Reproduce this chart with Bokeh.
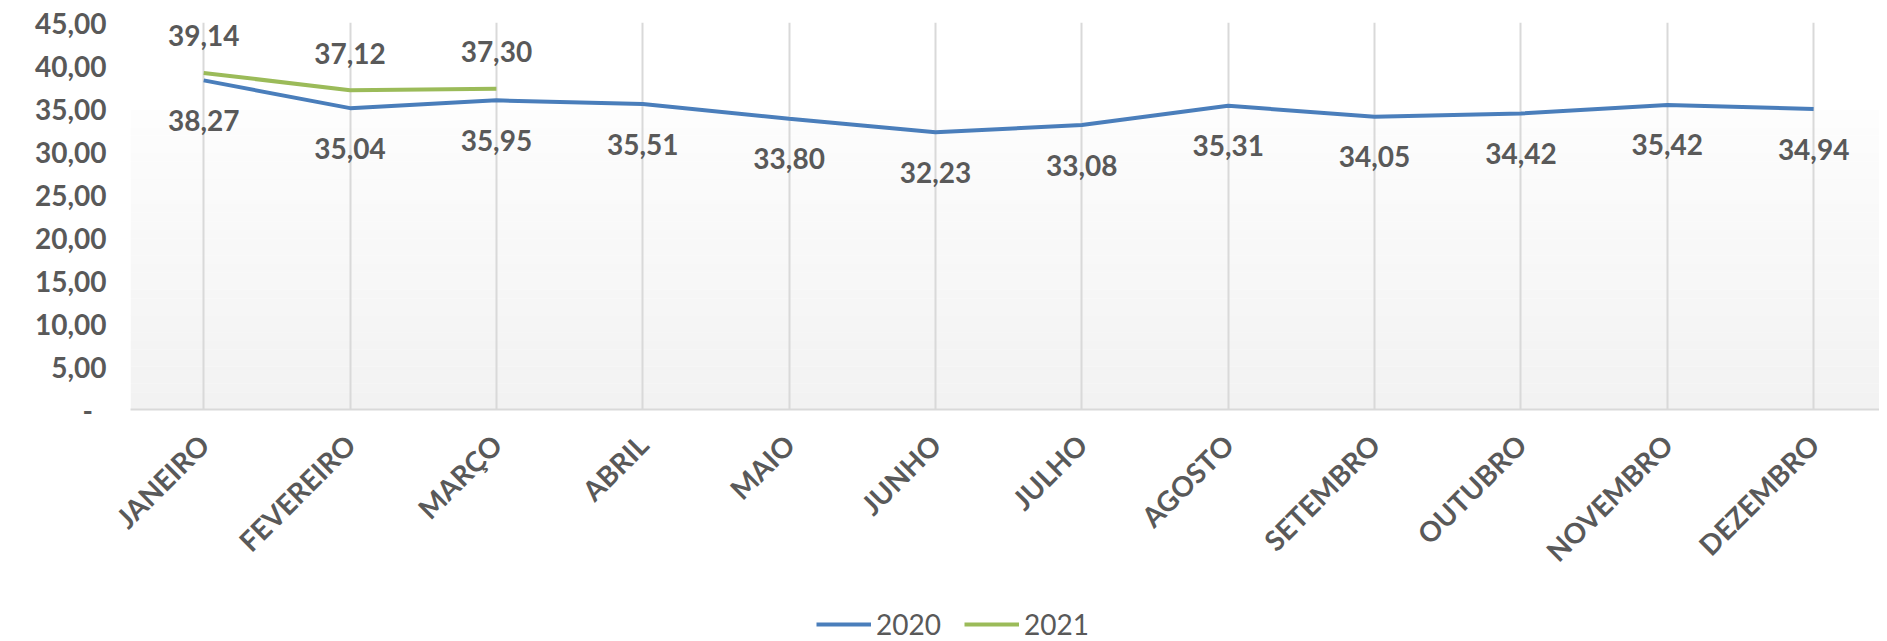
from bokeh.plotting import figure
from bokeh.layouts import column
from bokeh.models import (ColumnDataSource, Range1d, FixedTicker, CustomJSTickFormatter,
                          Legend, LegendItem, BoxAnnotation, LabelSet)
from bokeh.core.properties import value
from bokeh.embed import file_html
from bokeh.resources import INLINE
import math

months = ["JANEIRO", "FEVEREIRO", "MARÇO", "ABRIL", "MAIO", "JUNHO", "JULHO",
          "AGOSTO", "SETEMBRO", "OUTUBRO", "NOVEMBRO", "DEZEMBRO"]
values_2020 = [38.27, 35.04, 35.95, 35.51, 33.80, 32.23, 33.08, 35.31, 34.05, 34.42, 35.42, 34.94]
values_2021 = [39.14, 37.12, 37.30]
series_names = ["2020", "2021"]
y_ticks = [0, 5, 10, 15, 20, 25, 30, 35, 40, 45]

FONT = "Lato"
GRAY = "#595959"
BLUE = "#4a7ebb"
GREEN = "#9bbb59"
W = 1879

def fmt(v):
    return f"{v:.2f}".replace(".", ",")

x20 = list(range(len(values_2020)))
x21 = list(range(len(values_2021)))
src20 = ColumnDataSource(dict(x=x20, y=values_2020, lab=[fmt(v) for v in values_2020]))
src21 = ColumnDataSource(dict(x=x21, y=values_2021, lab=[fmt(v) for v in values_2021]))

p = figure(width=W, height=598, output_backend="svg", toolbar_location=None,
           x_range=Range1d(-0.5, len(months) - 0.55), y_range=Range1d(0, 45),
           min_border_left=130, min_border_right=0, min_border_top=22, min_border_bottom=189)
p.outline_line_color = None
p.background_fill_color = "white"
p.border_fill_color = "white"

# plot-area gradient (decoration)
n_bands = 35
top_val = 34.8
for i in range(n_bands):
    b = top_val * i / n_bands
    t = top_val * (i + 1) / n_bands + 0.02
    frac = i / (n_bands - 1)
    c = int(round(242 + (253 - 242) * frac))
    p.add_layout(BoxAnnotation(bottom=b, top=t, fill_color=f"#{c:02x}{c:02x}{c:02x}",
                               fill_alpha=1, line_color=None, level="image"))

# axes
p.xaxis.ticker = FixedTicker(ticks=x20)
p.xaxis.major_label_overrides = {i: m for i, m in enumerate(months)}
p.xaxis.major_label_orientation = math.pi / 4
p.xaxis.major_label_text_font = FONT
p.xaxis.major_label_text_font_style = "bold"
p.xaxis.major_label_text_font_size = "28px"
p.xaxis.major_label_text_color = GRAY
p.xaxis.major_tick_line_color = None
p.xaxis.minor_tick_line_color = None
p.xaxis.axis_line_color = "#d9d9d9"
p.xaxis.axis_line_width = 2
p.xaxis.major_label_standoff = 24

p.yaxis.ticker = FixedTicker(ticks=y_ticks)
p.yaxis.formatter = CustomJSTickFormatter(code="""
if (tick == 0) { return "-\u00a0\u00a0"; }
return tick.toFixed(2).replace('.', ',');
""")
p.yaxis.major_label_text_font = FONT
p.yaxis.major_label_text_font_style = "bold"
p.yaxis.major_label_text_font_size = "28px"
p.yaxis.major_label_text_color = GRAY
p.yaxis.major_tick_line_color = None
p.yaxis.minor_tick_line_color = None
p.yaxis.axis_line_color = None
p.yaxis.major_label_standoff = 18

p.xgrid.ticker = FixedTicker(ticks=x20)
p.xgrid.grid_line_color = "#d9d9d9"
p.xgrid.grid_line_width = 2
p.ygrid.grid_line_color = None

p.line("x", "y", source=src20, line_color=BLUE, line_width=4)
p.line("x", "y", source=src21, line_color=GREEN, line_width=4)

lab20 = LabelSet(x="x", y="y", text="lab", source=src20, text_align="center",
                 text_baseline="middle", y_offset=-40, text_font=value(FONT),
                 text_font_style="bold", text_font_size="28px", text_color=GRAY)
lab21 = LabelSet(x="x", y="y", text="lab", source=src21, text_align="center",
                 text_baseline="middle", y_offset=37, text_font=value(FONT),
                 text_font_style="bold", text_font_size="28px", text_color=GRAY)
p.add_layout(lab20)
p.add_layout(lab21)

# legend strip below the chart (its series lines sit outside its visible range)
pl = figure(width=W, height=43, output_backend="svg", toolbar_location=None,
            x_axis_type=None, y_axis_type=None, min_border=0,
            x_range=Range1d(0, 1), y_range=Range1d(1000, 1001))
pl.outline_line_color = None
pl.grid.grid_line_color = None
pl.background_fill_color = "white"
pl.border_fill_color = "white"
lr20 = pl.line("x", "y", source=src20, line_color=BLUE, line_width=4)
lr21 = pl.line("x", "y", source=src21, line_color=GREEN, line_width=4)
legend = Legend(items=[LegendItem(label=series_names[0], renderers=[lr20]),
                       LegendItem(label=series_names[1], renderers=[lr21])],
                orientation="horizontal", location=(686, 0),
                label_text_font=FONT, label_text_font_size="28px", label_text_color=GRAY,
                glyph_width=55, glyph_height=30, label_standoff=5, spacing=23,
                padding=0, margin=0, border_line_color=None, background_fill_alpha=0)
pl.add_layout(legend, "center")

layout = column(p, pl, spacing=0)
open("out.html", "w").write(file_html(layout, INLINE))
